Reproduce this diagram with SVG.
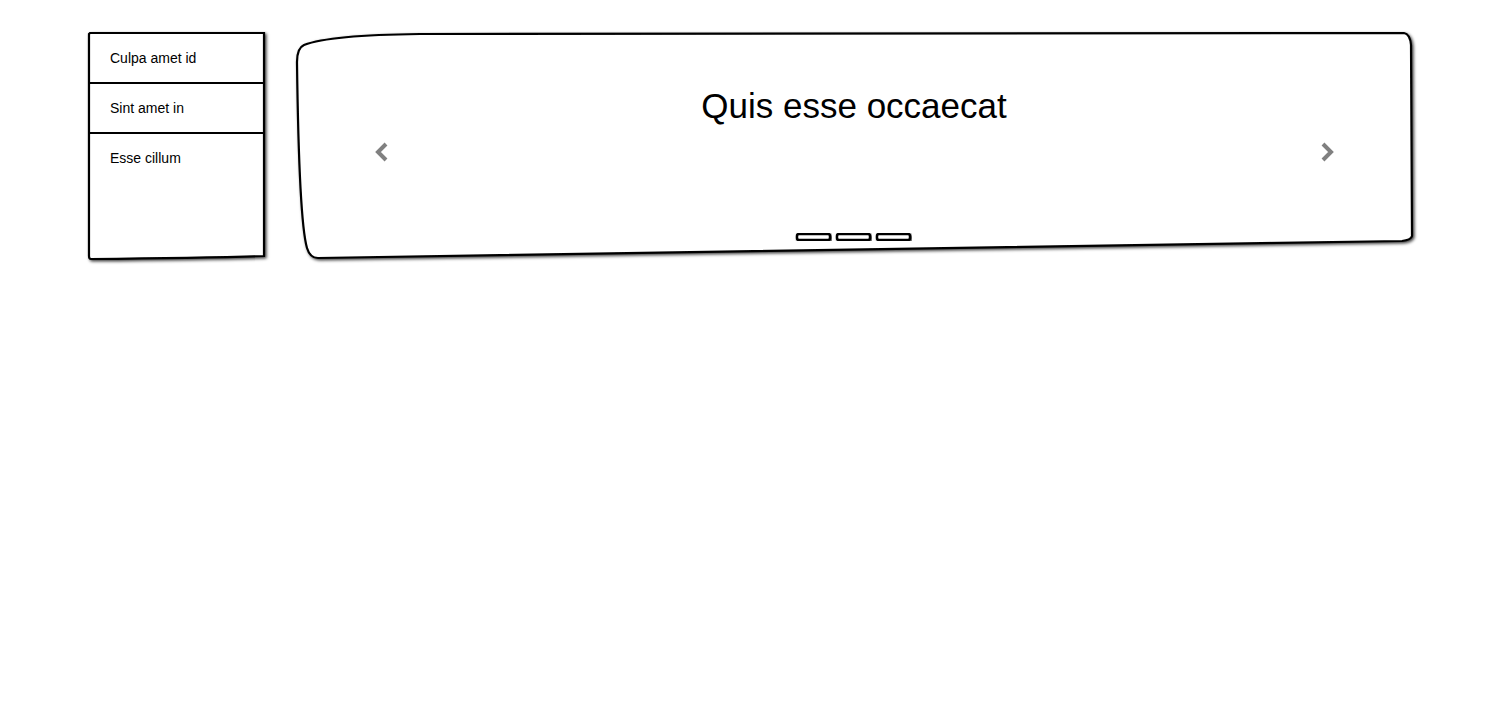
<svg xmlns="http://www.w3.org/2000/svg" width="1500" height="720" viewBox="0 0 1500 720">
  <defs>
    <filter id="sh" x="-5%" y="-5%" width="110%" height="115%">
      <feDropShadow dx="1.5" dy="1.5" stdDeviation="1.5" flood-color="#000" flood-opacity="0.75"/>
    </filter>
    <style>
      .box { fill: #fff; stroke: #000; stroke-width: 2.2; filter: url(#sh); }
      .div { stroke: #000; stroke-width: 2; fill: none; }
      .item { font-family: "Liberation Sans", Arial, sans-serif; font-size: 14px; fill: #000; }
      .title { font-family: "Liberation Sans", Arial, sans-serif; font-size: 35px; fill: #000; text-anchor: middle; }
      .chev { fill: none; stroke: #808080; stroke-width: 4; stroke-linecap: butt; stroke-linejoin: miter; }
      .dot { fill: #fff; stroke: #000; stroke-width: 2.5; filter: url(#sh); }
    </style>
  </defs>
  <rect width="1500" height="720" fill="#fff"/>

  <g id="list">
    <path class="box" d="M 90 33 L 264 33 L 264 256 Q 200 258 91 259 Q 89 259 89 256 L 89 34 Z"/>
    <line class="div" x1="89" y1="83" x2="264" y2="83"/>
    <line class="div" x1="89" y1="133" x2="264" y2="133"/>
    <text class="item" x="110" y="63">Culpa amet id</text>
    <text class="item" x="110" y="113">Sint amet in</text>
    <text class="item" x="110" y="163">Esse cillum</text>
  </g>

  <g id="carousel">
    <path class="box" d="M 304 45 Q 330 35 420 34 L 1404 33 Q 1410 34 1411 45 L 1412 236 Q 1411 240 1402 241 L 318 258 Q 310 258 307 248 Q 299 220 297 62 Q 297 48 304 45 Z"/>
    <text class="title" x="854" y="118">Quis esse occaecat</text>
    <polyline class="chev" points="386,144 378,152 386,160"/>
    <polyline class="chev" points="1323,144 1331,152 1323,160"/>
    <g id="indicators">
      <rect class="dot" x="797" y="234" width="33" height="6" rx="2"/>
      <rect class="dot" x="837" y="234" width="33" height="6" rx="2"/>
      <rect class="dot" x="877" y="234" width="33" height="6" rx="2"/>
    </g>
  </g>
</svg>
